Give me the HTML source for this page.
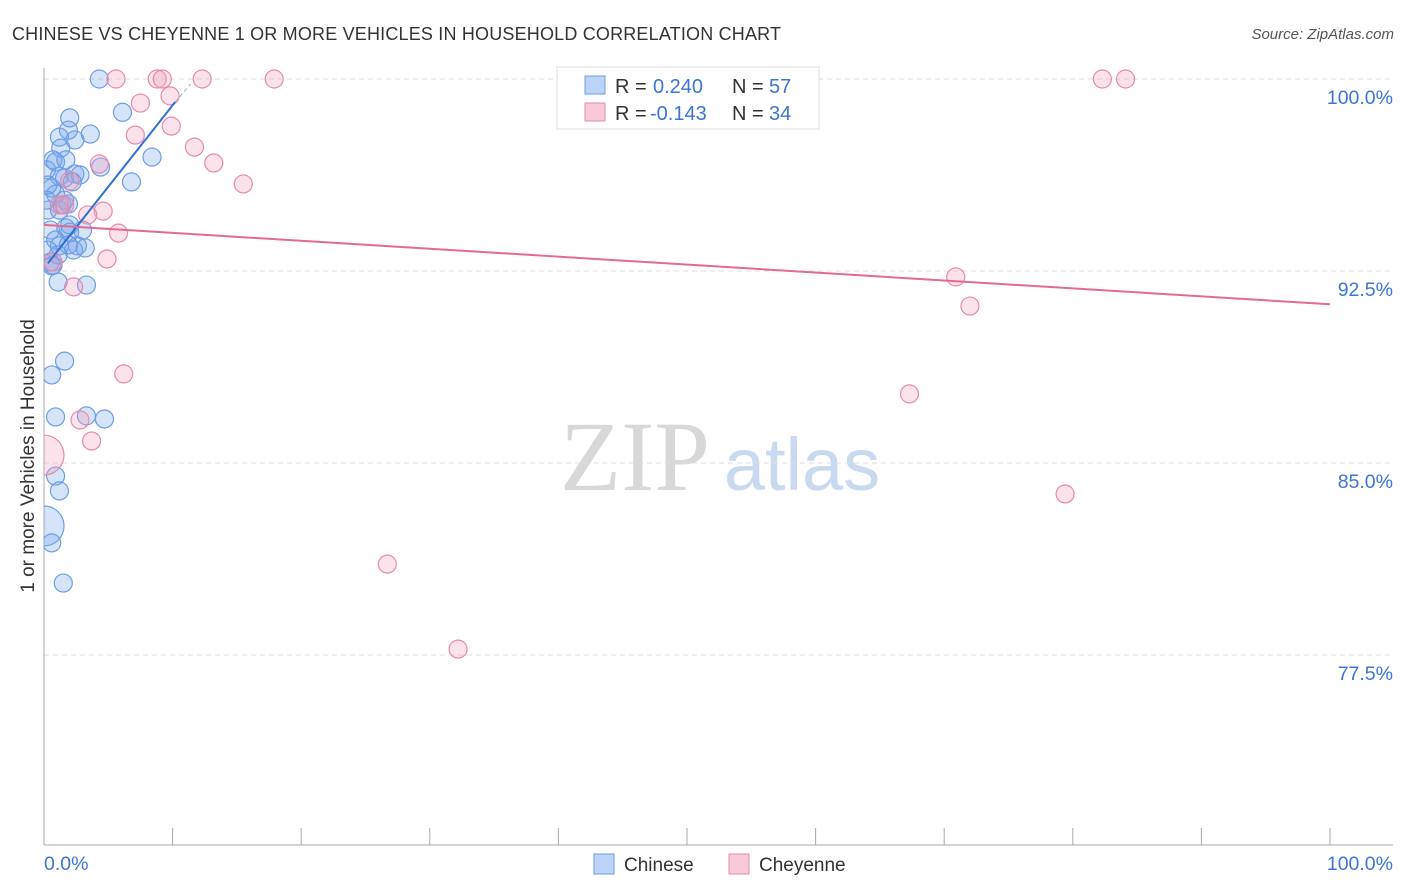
<!DOCTYPE html>
<html><head><meta charset="utf-8"><style>
body{margin:0;background:#fff;font-family:"Liberation Sans",sans-serif}
#wrap{position:relative;width:1406px;height:892px;overflow:hidden}
</style></head><body>
<div id="wrap">
<svg id="svg" width="1406" height="892" xmlns="http://www.w3.org/2000/svg">
<defs><clipPath id="plotclip"><rect x="44" y="40" width="1360" height="805"/></clipPath></defs>
<text x="12" y="40" font-size="18" fill="#333" textLength="769">CHINESE VS CHEYENNE 1 OR MORE VEHICLES IN HOUSEHOLD CORRELATION CHART</text>
<text x="1394" y="39" font-size="15" fill="#555" font-style="italic" text-anchor="end">Source: ZipAtlas.com</text>
<text x="635" y="490" font-size="100" fill="#d8d8d8" font-family="Liberation Serif" text-anchor="middle">ZIP</text>
<text x="802" y="490" font-size="74" fill="#c9d9f0" text-anchor="middle">atlas</text>
<g id="grid"></g>
<g id="axes"></g>
<g id="pts" clip-path="url(#plotclip)"></g>
<g id="trend"></g>
<text transform="translate(34,456) rotate(-90)" font-size="19" fill="#333" text-anchor="middle">1 or more Vehicles in Household</text>
<g>
<rect x="557" y="67" width="262" height="62" fill="#fff" stroke="#ddd"/>
<rect x="585" y="76" width="20" height="18" fill="#bcd4f6" stroke="#6d9de6"/>
<text x="615" y="93" font-size="20" fill="#333">R =</text>
<text x="653" y="93" font-size="20" fill="#3d74d6">0.240</text>
<text x="732" y="93" font-size="20" fill="#333">N =</text>
<text x="769" y="93" font-size="20" fill="#3d74d6">57</text>
<rect x="585" y="103" width="20" height="18" fill="#f8c9d7" stroke="#e88aa8"/>
<text x="615" y="120" font-size="20" fill="#333">R =</text>
<text x="650" y="120" font-size="20" fill="#3d74d6">-0.143</text>
<text x="732" y="120" font-size="20" fill="#333">N =</text>
<text x="769" y="120" font-size="20" fill="#3d74d6">34</text>
</g>
<g>
<rect x="594" y="854" width="20" height="20" fill="#bcd4f6" stroke="#6d9de6"/>
<text x="624" y="871" font-size="19" fill="#333">Chinese</text></g>
<g>
<rect x="729" y="854" width="20" height="20" fill="#f8c9d7" stroke="#e88aa8"/>
<text x="759" y="871" font-size="19" fill="#333">Cheyenne</text></g>
</svg></div>
<script>
const blueX=[4.3,6.1,8.4,6.8,4.4,2.0,1.9,1.2,2.4,3.6,1.3,0.9,0.7,1.2,1.6,2.4,2.8,0.6,0.9,0.3,1.4,1.9,0.5,1.7,2.0,1.2,2.6,2.3,0.5,0.6,1.1,3.3,1.6,0.6,0.9,3.3,4.7,0.9,1.2,0,0.6,1.5,0.3,0.9,1.6,2.2,0.3,1.2,2.0,3.0,0.7,0.2,0.2,1.1,1.9,3.2,1.7];
const blueY=[100,98.7,96.95,95.98,96.56,98.48,98.0,97.73,97.62,97.85,97.3,96.76,96.84,96.2,96.13,96.29,96.25,95.74,95.5,94.88,95.08,95.12,94.1,94.18,94.02,93.48,93.48,93.32,92.85,92.7,92.07,91.95,88.98,88.44,86.8,86.84,86.72,84.49,83.91,82.54,81.88,80.31,93.32,93.71,95.27,95.98,95.86,94.88,94.3,94.1,92.73,95.27,96.45,93.13,93.52,93.4,96.84];
const blueBig=[39];
const pinkX=[5.6,8.8,9.2,12.3,17.9,82.3,84.1,9.8,7.5,7.1,9.9,11.7,13.2,15.5,4.3,2.0,1.2,4.6,3.4,5.8,4.9,2.3,0.7,6.2,2.8,3.7,0,70.9,72.0,67.3,79.4,26.7,32.2,1.6];
const pinkY=[100,100,100,100,100,100,100,99.34,99.06,97.81,98.16,97.34,96.72,95.9,96.68,96.02,95.08,94.84,94.69,93.98,92.97,91.88,92.85,88.48,86.68,85.86,85.31,92.27,91.13,87.7,83.79,81.05,77.73,95.08];
const pinkBig=[26];
const blueTrendX=[0.3,10.2,11.4];
const blueTrendY=[92.8,99.1,99.8];
const pinkTrendX=[0,100];
const pinkTrendY=[94.3,91.2];
const yTicks=[100,92.5,85,77.5];
const yTickLabels=["100.0%","92.5%","85.0%","77.5%"];
const xTicks=[0,10,20,30,40,50,60,70,80,90,100];

const NS="http://www.w3.org/2000/svg";
const sx=v=>44+v*12.86;
const sy=v=>79+(100-v)*25.6;
function mk(t,a,p){const e=document.createElementNS(NS,t);for(const k in a)e.setAttribute(k,a[k]);p.appendChild(e);return e;}
const grid=document.getElementById('grid'),axes=document.getElementById('axes'),pts=document.getElementById('pts'),tr=document.getElementById('trend');
yTicks.forEach((v,i)=>{
 const l=mk('line',{x1:44,x2:1393,y1:sy(v),y2:sy(v),stroke:'#ddd','stroke-dasharray':'5,4'},grid);
 
 
 const t=mk('text',{x:1393,y:sy(v)+25,'font-size':19.5,fill:'#3d74d6','text-anchor':'end'},grid);
 t.textContent=yTickLabels[i];
 
 
});
const ya=mk('line',{x1:44,x2:44,y1:68,y2:845,stroke:'#aaa'},axes);


const xa=mk('line',{x1:44,x2:1393,y1:845,y2:845,stroke:'#aaa'},axes);


xTicks.forEach(v=>{const l=mk('line',{x1:sx(v),x2:sx(v),y1:828,y2:845,stroke:'#aaa'},axes);
 
 });
const x0=mk('text',{x:44,y:870,'font-size':19.5,fill:'#3d74d6'},axes);x0.textContent='0.0%';


const x1=mk('text',{x:1393,y:870,'font-size':19.5,fill:'#3d74d6','text-anchor':'end'},axes);x1.textContent='100.0%';


function draw(X,Y,big,fill,stroke,name){X.forEach((x,i)=>{
 const c=mk('circle',{cx:sx(x),cy:sy(Y[i]),r:big.includes(i)?20:9,fill:fill,stroke:stroke,'stroke-width':1.2},pts);
 
 });}
draw(blueX,blueY,blueBig,'rgba(120,165,235,0.3)','#6d9de6','chinese-point');
draw(pinkX,pinkY,pinkBig,'rgba(242,160,188,0.3)','#e88aa8','cheyenne-point');
const bl=mk('line',{x1:sx(blueTrendX[0]),y1:sy(blueTrendY[0]),x2:sx(blueTrendX[1]),y2:sy(blueTrendY[1]),stroke:'#2f6fd6','stroke-width':2},tr);


const bd=mk('line',{x1:sx(blueTrendX[1]),y1:sy(blueTrendY[1]),x2:sx(blueTrendX[2]),y2:sy(blueTrendY[2]),stroke:'#8aa8e0','stroke-width':1,'stroke-dasharray':'4,3'},tr);


const pl=mk('line',{x1:sx(pinkTrendX[0]),y1:sy(pinkTrendY[0]),x2:sx(pinkTrendX[1]),y2:sy(pinkTrendY[1]),stroke:'#e46a95','stroke-width':2},tr);


</script>
</body></html>
